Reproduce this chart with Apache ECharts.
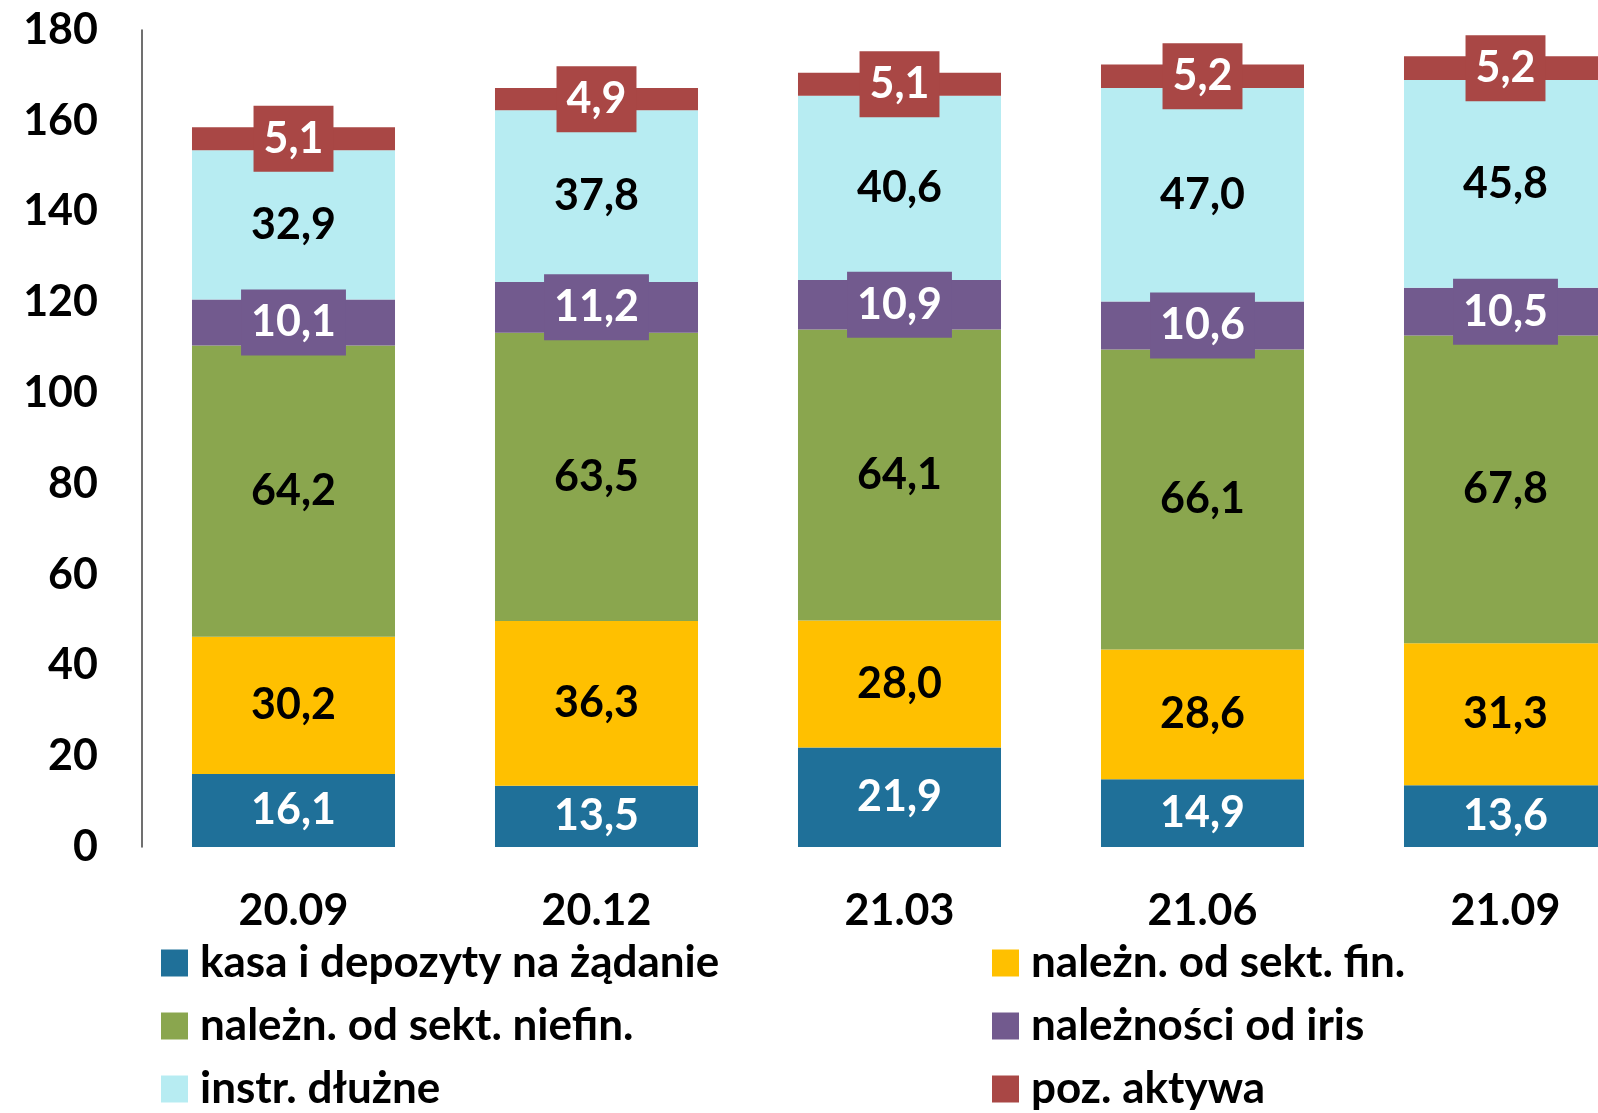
<!DOCTYPE html>
<html>
<head>
<meta charset="utf-8">
<title>aktywa</title>
<script src="https://cdn.jsdelivr.net/npm/echarts@6/dist/echarts.min.js"></script>
<style>
  html, body { margin: 0; padding: 0; background: #fff; }
  #main { width: 1598px; height: 1113px; }
</style>
</head>
<body>
<div id="main"></div>
<script>
var categories = ['20.09', '20.12', '21.03', '21.06', '21.09'];
var seriesNames = ['kasa i depozyty na żądanie', 'należn. od sekt. fin.', 'należn. od sekt. niefin.',
                   'należności od iris', 'instr. dłużne', 'poz. aktywa'];
var kasa    = [16.1, 13.5, 21.9, 14.9, 13.6];
var sektFin = [30.2, 36.3, 28.0, 28.6, 31.3];
var niefin  = [64.2, 63.5, 64.1, 66.1, 67.8];
var iris    = [10.1, 11.2, 10.9, 10.6, 10.5];
var instr   = [32.9, 37.8, 40.6, 47.0, 45.8];
var poz     = [5.1, 4.9, 5.1, 5.2, 5.2];
var yTicks  = [0, 20, 40, 60, 80, 100, 120, 140, 160, 180];

var colors = ['#1f7099', '#ffc000', '#8aa64e', '#725a8e', '#b7ecf2', '#a94745'];
var labelColors = ['#fff', '#000', '#000', '#fff', '#000', '#fff'];
var boxed = [false, false, false, true, false, true];
var FONT = 'Lato';

function fmt(p) { return p.value.toFixed(1).replace('.', ','); }

var values = [kasa, sektFin, niefin, iris, instr, poz];
var series = values.map(function (v, i) {
  var label = {
    show: true,
    position: 'inside',
    formatter: fmt,
    color: labelColors[i],
    fontFamily: FONT,
    fontWeight: 'bold',
    fontSize: 43,
    lineHeight: 50
  };
  if (boxed[i]) {
    label.backgroundColor = colors[i];
    label.padding = [8, 10, 8, 10];
  }
  return {
    name: seriesNames[i],
    type: 'bar',
    stack: 'total',
    barCategoryGap: '33%',
    data: v,
    itemStyle: { color: colors[i] },
    label: label
  };
});

var legendText = { fontFamily: FONT, fontWeight: 'bold', fontSize: 44, color: '#000', lineHeight: 40, padding: [0, 0, 0, 7] };

var myChart = echarts.init(document.getElementById('main'));
myChart.setOption({
  animation: false,
  color: colors,
  grid: { left: 142, top: 30, bottom: 266, width: 1515, containLabel: false, outerBoundsMode: 'none' },
  xAxis: {
    type: 'category',
    data: categories,
    axisLine: { show: false },
    axisTick: { show: false },
    axisLabel: { color: '#000', fontFamily: FONT, fontWeight: 'bold', fontSize: 43, margin: 43 }
  },
  yAxis: {
    type: 'value',
    min: yTicks[0],
    max: yTicks[yTicks.length - 1],
    interval: 20,
    splitLine: { show: false },
    axisTick: { show: false },
    axisLine: { show: true, lineStyle: { color: '#404040', width: 1.5 } },
    axisLabel: { color: '#000', fontFamily: FONT, fontWeight: 'bold', fontSize: 43, margin: 44 }
  },
  legend: [
    {
      orient: 'vertical', left: 161, top: 941, height: 250, padding: 0, itemWidth: 27, itemHeight: 27, itemGap: 19,
      icon: 'rect', data: [seriesNames[0], seriesNames[2], seriesNames[4]], textStyle: legendText
    },
    {
      orient: 'vertical', left: 992, top: 941, height: 250, padding: 0, itemWidth: 27, itemHeight: 27, itemGap: 19,
      icon: 'rect', data: [seriesNames[1], seriesNames[3], seriesNames[5]], textStyle: legendText
    }
  ],
  series: series
});
</script>
</body>
</html>
